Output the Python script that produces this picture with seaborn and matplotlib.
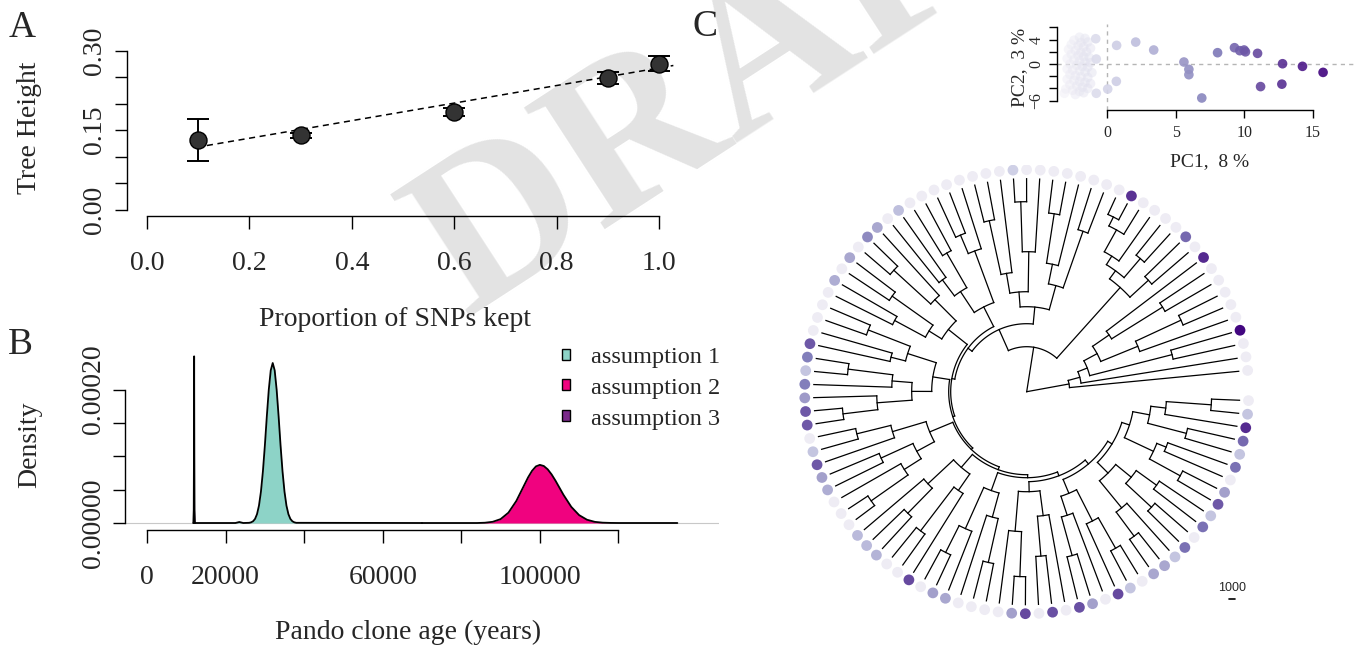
import numpy as np
import pandas as pd
import matplotlib
matplotlib.use("Agg")
import matplotlib.pyplot as plt
from matplotlib.collections import LineCollection
from matplotlib.patches import Patch
import seaborn as sns

# ---------------- Panel A data ----------------
snp_prop = [0.1, 0.3, 0.6, 0.9, 1.0]
tree_height = [0.1315, 0.140, 0.184, 0.248, 0.275]
tree_height_err = [0.0395, 0.004, 0.007, 0.011, 0.014]
fit_x = [0.117, 1.028]
fit_y = [0.121, 0.272]

# ---------------- Panel B data (density curves) ----------------
a1_age = [11800, 22500, 23500, 24500, 26000, 26500, 27000, 27500, 28000, 28500, 29000, 29500,
          30000, 30500, 31000, 31500, 32000, 32500, 33000, 33500, 34000, 34500, 35000,
          35500, 36000, 36500, 37000, 37500, 38000, 70000]
a1_dens = [0, 0, 1.5e-6, 0, 3e-7, 1.0e-6, 2.6e-6, 6.1e-6, 1.32e-5, 2.60e-5, 4.69e-5, 7.72e-5,
           1.16e-4, 1.60e-4, 2.00e-4, 2.29e-4, 2.40e-4, 2.29e-4, 2.00e-4, 1.60e-4, 1.16e-4,
           7.72e-5, 4.69e-5, 2.60e-5, 1.32e-5, 6.1e-6, 2.6e-6, 1.0e-6, 3e-7, 0]
a2_age = [70000, 84000, 86000, 88000, 90000, 92000, 94000, 96000, 97000, 98000, 99000, 100000,
          101000, 102000, 103000, 104000, 106000, 108000, 110000, 112000, 114000, 116000,
          118000, 120000, 135000]
a2_dens = [0, 0, 4e-7, 1.8e-6, 5.8e-6, 1.55e-5, 3.3e-5, 5.66e-5, 6.84e-5, 7.82e-5, 8.49e-5, 8.72e-5,
           8.55e-5, 8.05e-5, 7.28e-5, 6.33e-5, 4.24e-5, 2.42e-5, 1.18e-5, 4.9e-6, 1.7e-6, 5e-7,
           1.3e-7, 0, 0]
a3_age = [11800, 11900, 11950, 12000, 12050, 12100, 12200]
a3_dens = [0, 2e-5, 1e-4, 2.5e-4, 1e-4, 2e-5, 0]
assumption_labels = ["assumption 1", "assumption 2", "assumption 3"]
assumption_colors = ["#8dd3c7", "#f0027f", "#7b2a8a"]

# ---------------- Panel C: PCA (first 23 = spread-out samples, rest = main cluster) ----------------
pc1 = [2.09, 0.7, 3.4, 5.6, 5.96, 5.96, 6.9, 8.05, 9.28, 9.67, 9.98, 10.08, 10.96, 11.18,
       12.78, 12.73, 14.23, 15.73, 0.68, 0.05, -0.82, -0.78, -0.78,
       -2.0, -1.6, -2.4, -1.9, -1.4, -2.6, -2.1, -1.7, -1.2, -2.8, -2.3, -1.9, -1.5, -2.6,
       -2.1, -1.7, -1.3, -2.9, -2.4, -2.0, -1.6, -1.2, -2.7, -2.2, -1.8, -1.4, -2.9, -2.5,
       -2.0, -1.6, -1.1, -2.7, -2.3, -1.9, -1.4, -2.9, -2.4, -2.0, -1.6, -1.2, -2.7, -2.2,
       -1.8, -1.4, -3.0, -2.5, -2.0, -3.1, -2.3, -1.7]
pc2 = [3.6, 3.06, 2.3, 0.33, -0.87, -1.75, -5.57, 1.86, 2.68, 2.19, 2.3, 2.0, 1.75, -3.7,
       0.05, -3.3, -0.38, -1.37, -2.84, -4.1, 4.15, 0.82, -4.8,
       4.4, 4.2, 3.9, 3.5, 3.6, 3.2, 3.0, 2.8, 2.6, 2.4, 2.2, 1.9, 2.0, 1.6,
       1.4, 1.2, 1.1, 0.9, 0.7, 0.5, 0.3, 0.2, 0.0, -0.2, -0.4, -0.5, -0.8, -1.0,
       -1.1, -1.3, -1.4, -1.7, -1.9, -2.1, -2.2, -2.5, -2.7, -2.9, -3.0, -3.2, -3.4, -3.6,
       -3.8, -4.0, -4.1, -4.3, -4.5, -4.8, -5.0, -4.7]
n_spread = 23

# ---------------- Panel C: tree (node = [node radius, children...], leaf = tip index) ----------------
tip_pc1 = [-3, -3, -3, 15.5, -3, -3, -3, -3, -3, 13,
           -3, 9, -3, -3, -3, -3, 12.5, -3, -3, -3,
           -3, -3, -3, -3, -3, 0.5, -3, -3, -3, -3,
           -3, -3, -3, -3, 2, -3, 4, 6.5, -3, 4,
           -3, 3.5, -3, -3, -3, -3, 10, 7.5, 1.5, 7.5,
           5, 10, 10, -3, 1.5, 10, 4.5, 3.5, -3, -3,
           -3, 2.5, 2.5, 3, -3, -3, 11, -3, 4.5, 4,
           -3, -3, -3, -3, 4.5, 11, -3, 10.5, -3, 10.5,
           4.5, -3, 11, 1.5, -3, 4, 4, 1.5, 8.5, -3,
           8.5, 1.5, 10, 4.5, -3, 8.5, 1.5, 9, 13, 1.5,
           -3]
clade_R = [43, 0, [55, 1, [65, [150, 2, 3], [80, [120, 4, [170, 5, 6]], [100, [160, 7, 8], 9]]]]]
clade_TR = [140, [165, 10, 11], [150, [175, 12, 13], [160, 14, [185, 15, [195, 16, 17]]]]]
clade_TM = [85, [110, [170, 18, 19], [130, 20, [180, 21, 22]]], [100, [140, 23, [190, 24, 25]], [120, 26, [175, 27, 28]]]]
clade_1 = [95, [150, 29, [170, 30, 31]], [120, [160, 32, 33], [140, 34, 35]]]
clade_2 = [100, [130, 36, [180, 37, 38]], [115, [165, 39, 40], [150, 41, 42]]]
clade_3 = [95, [125, [170, 43, 44], [140, 45, 46]], [115, [135, [180, 47, 48], 49], [150, 50, [185, 51, 52]]]]
clade_4 = [105, [140, [175, 53, 54], 55], [125, [160, 56, 57], [145, 58, [190, 59, 60]]]]
clade_5 = [100, [135, 61, [170, 62, 63]], [120, [175, 64, 65], 66]]
clade_6 = [105, [150, [180, 67, 68], 69], [130, 70, [175, 71, 72]]]
clade_7 = [100, [140, 73, [185, 74, 75]], [125, [165, 76, 77], 78]]
clade_8 = [110, [130, [170, 79, 80], 81], [145, 82, [180, 83, 84]]]
clade_9 = [100, [115, [150, [180, 85, 86], 87], [135, [170, 88, 89], [160, 90, 91]]],
           [108, [140, [175, 92, 93], [150, 94, 95]], [125, [165, 96, 97], [140, 98, [185, 99, 100]]]]]
tree = [0, clade_R,
        [45, [68, clade_TM, [73, clade_1, [76, clade_2, [78, clade_3, [80, clade_4,
             [83, clade_5, [86, clade_6, [90, clade_7, [95, clade_8, clade_9]]]]]]]]], clade_TR]]
scale_bar_label = "1000"

# ---------------- figure ----------------
sns.set_theme(style="white")
plt.rcParams['font.family'] = ['Liberation Serif', 'DejaVu Serif']

W, H = 1357, 647
fig = plt.figure(figsize=(W / 100, H / 100), dpi=100)


def rect(x0, y0, x1, y1):
    return [x0 / W, 1 - y1 / H, (x1 - x0) / W, (y1 - y0) / H]


def r_style(ax, xb, yb, ticklen, lw=1.0):
    for s in ['top', 'right']:
        ax.spines[s].set_visible(False)
    ax.spines['left'].set_bounds(*yb)
    ax.spines['bottom'].set_bounds(*xb)
    for s in ['left', 'bottom']:
        ax.spines[s].set_linewidth(lw)
        ax.spines[s].set_color('black')
    ax.tick_params(direction='out', length=ticklen, width=lw, color='black',
                   bottom=True, left=True)
    ax.set_facecolor('none')
    ax.set_xlabel('')
    ax.set_ylabel('')


# watermark
fig.text(466 / W, 1 - 318 / H, "DRAFT", rotation=33, rotation_mode='anchor',
         ha='left', va='baseline', fontsize=160, fontweight='bold', color='#e3e3e3',
         family='Liberation Serif', zorder=-10)

FS = 20

# ---------- Panel A ----------
axA = fig.add_axes(rect(126.5, 44.3, 679.5, 216))
axA.errorbar(snp_prop, tree_height, yerr=tree_height_err, fmt='none', ecolor='black',
             elinewidth=1.4, capsize=8, capthick=1.4, zorder=2)
sns.lineplot(x=fit_x, y=fit_y, ax=axA, color='black', lw=1.1, linestyle=(0, (4, 3)),
             sort=False, zorder=3)
sns.scatterplot(x=snp_prop, y=tree_height, ax=axA, color='#333333', edgecolor='black',
                linewidth=1.0, s=150, zorder=4)
axA.set_xlim(-0.04, 1.04)
axA.set_ylim(-0.012, 0.312)
r_style(axA, (0, 1), (0, 0.3), 9)
axA.set_xticks([0, 0.2, 0.4, 0.6, 0.8, 1.0])
axA.set_xticklabels(['0.0', '0.2', '0.4', '0.6', '0.8', '1.0'], fontsize=FS)
axA.set_yticks([0, 0.05, 0.10, 0.15, 0.20, 0.25, 0.30])
axA.set_yticklabels(['0.00', '', '', '0.15', '', '', '0.30'], fontsize=FS, rotation=90, va='center')
axA.tick_params(axis='x', pad=16)
axA.tick_params(axis='y', pad=5)
fig.text(30 / W, 1 - 128 / H, 'Tree Height', rotation=90, ha='center', va='center', fontsize=FS)
fig.text(395 / W, 1 - 320 / H, 'Proportion of SNPs kept', ha='center', va='center', fontsize=FS)
fig.text(22 / W, 1 - 28 / H, 'A', ha='center', va='center', fontsize=27)

# ---------- Panel B ----------
axB = fig.add_axes(rect(125, 341, 719, 530))
axB.axhline(0, color='#c8c8c8', lw=0.8, zorder=1)
curves = [(a1_age, a1_dens), (a2_age, a2_dens), (a3_age, a3_dens)]
for (xa, ya), col in zip(curves, assumption_colors):
    axB.fill_between(xa, ya, 0, color=col, lw=0, zorder=2)
    sns.lineplot(x=xa, y=ya, ax=axB, color='black', lw=1.3, sort=False, zorder=3)
axB.set_xlim(-5600, 145600)
axB.set_ylim(-0.0000105, 0.000273)
r_style(axB, (0, 120000), (0, 0.0002), 9)
axB.set_xticks([0, 20000, 40000, 60000, 80000, 100000, 120000])
axB.set_xticklabels(['0', '20000', '', '60000', '', '100000', ''], fontsize=FS)
axB.set_yticks([0, 0.00005, 0.0001, 0.00015, 0.0002])
axB.set_yticklabels(['0.00000', '', '', '', '0.00020'], fontsize=FS, rotation=90, va='center')
axB.tick_params(axis='x', pad=16)
axB.tick_params(axis='y', pad=5)
handles = [Patch(facecolor=c, edgecolor='black', lw=1.0) for c in assumption_colors]
axB.legend(handles, assumption_labels, loc='upper right', bbox_to_anchor=(1.018, 1.021),
           frameon=False, fontsize=17.5, handlelength=0.32, handleheight=0.32,
           handletextpad=0.87, labelspacing=0.41, borderaxespad=0.0)
fig.text(30 / W, 1 - 445 / H, 'Density', rotation=90, ha='center', va='center', fontsize=FS)
fig.text(408 / W, 1 - 632 / H, 'Pando clone age (years)', ha='center', va='center', fontsize=FS)
fig.text(20 / W, 1 - 345 / H, 'B', ha='center', va='center', fontsize=27)

# ---------- Panel C: PCA ----------
norm = (-6, 16)
axP = fig.add_axes(rect(1057, 24.4, 1357, 110))
axP.axvline(0, color='#b5b5b5', lw=1.0, linestyle=(0, (3, 3)), zorder=1)
axP.axhline(0, color='#b5b5b5', lw=1.0, linestyle=(0, (3, 3)), zorder=1)
sns.scatterplot(x=pc1[n_spread:], y=pc2[n_spread:], hue=pc1[n_spread:], palette='Purples',
                hue_norm=norm, ax=axP, s=48, linewidth=0, alpha=0.45, legend=False, zorder=2)
sns.scatterplot(x=pc1[:n_spread], y=pc2[:n_spread], hue=pc1[:n_spread], palette='Purples',
                hue_norm=norm, ax=axP, s=48, linewidth=0, alpha=0.9, legend=False, zorder=3)
axP.set_xlim(-3.64, 18.2)
axP.set_ylim(-7.54, 6.5)
r_style(axP, (0, 15), (-6, 6), 6)
axP.set_xticks([0, 5, 10, 15])
axP.set_xticklabels(['0', '5', '10', '15'], fontsize=11.5)
axP.set_yticks([-6, -4, -2, 0, 2, 4, 6])
axP.set_yticklabels(['\u22126', '', '', '0', '', '4', ''], fontsize=11.5, rotation=90, va='center')
axP.tick_params(axis='x', pad=5)
axP.tick_params(axis='y', pad=3)
fig.text(1210 / W, 1 - 162 / H, 'PC1,  8 %', ha='center', va='center', fontsize=14)
fig.text(1020 / W, 1 - 67 / H, 'PC2,  3 %', rotation=90, ha='center', va='center', fontsize=14)
fig.text(705 / W, 1 - 27 / H, 'C', ha='center', va='center', fontsize=27)

# ---------- Panel C: circular tree ----------
axT = fig.add_axes(rect(780, 165, 1290, 625))
axT.set_xlim(-246.7, 263.3)
axT.set_ylim(-233.3, 226.7)
axT.axis('off')
n_tips = len(tip_pc1)
tip_r = 213.0
dot_r = 222.0
tip_ang = np.deg2rad(5.5 + np.arange(n_tips) * (352.2 / (n_tips - 1)))
segs = []


def walk(node, parent_r):
    if isinstance(node, int):
        a = tip_ang[node]
        segs.append([(parent_r * np.cos(a), parent_r * np.sin(a)),
                     (tip_r * np.cos(a), tip_r * np.sin(a))])
        return a
    r = node[0]
    child_angles = [walk(c, r) for c in node[1:]]
    a0, a1 = min(child_angles), max(child_angles)
    if r > 0:
        t = np.linspace(a0, a1, max(2, int(np.rad2deg(a1 - a0)) + 2))
        segs.append(list(zip(r * np.cos(t), r * np.sin(t))))
    a = float(np.mean(child_angles))
    if parent_r is not None:
        segs.append([(parent_r * np.cos(a), parent_r * np.sin(a)),
                     (r * np.cos(a), r * np.sin(a))])
    return a


walk(tree, None)
axT.add_collection(LineCollection(segs, colors='black', linewidths=0.9, capstyle='projecting'))
sns.scatterplot(x=dot_r * np.cos(tip_ang), y=dot_r * np.sin(tip_ang), hue=tip_pc1,
                palette='Purples', hue_norm=norm, ax=axT, s=60, linewidth=0,
                legend=False, zorder=3)
# scale bar
axT.plot([202, 208], [-207.3, -207.3], color='black', lw=1.2)
axT.text(205, -196.3, scale_bar_label, ha='center', va='center', fontsize=9,
         family='Liberation Sans')

fig.savefig('out.png', dpi=100)
